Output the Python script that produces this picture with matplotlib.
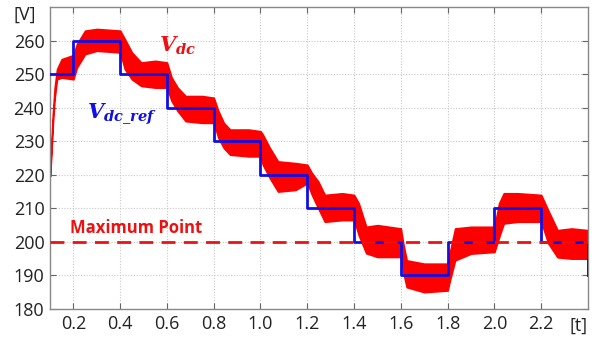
import matplotlib
matplotlib.use("Agg")
import matplotlib.pyplot as plt

# Reference (blue step) values
ref_t = [0.10, 0.20, 0.40, 0.60, 0.80, 1.00, 1.20, 1.40, 1.60, 1.80, 2.00, 2.20, 2.40]
ref_v = [250, 260, 250, 240, 230, 220, 210, 200, 190, 200, 210, 200, 190]

vdc_t     = [0.100, 0.105, 0.112, 0.120, 0.130, 0.150, 0.200, 0.215, 0.250, 0.300, 0.400, 0.420, 0.450, 0.490, 0.550, 0.600,
             0.620, 0.646, 0.680, 0.750, 0.800, 0.820, 0.843, 0.870, 0.950, 1.000, 1.010, 1.040, 1.075, 1.150, 1.200,
             1.220, 1.247, 1.275, 1.350, 1.400, 1.420, 1.452, 1.500, 1.600, 1.610, 1.625, 1.700, 1.800, 1.810, 1.832,
             1.900, 2.000, 2.020, 2.040, 2.100, 2.200, 2.230, 2.270, 2.330, 2.400]
vdc_upper = [221.5, 228.0, 238.0, 246.0, 251.5, 254.5, 255.7, 259.0, 263.0, 263.5, 263.0, 260.5, 256.5, 253.5, 254.0, 253.5,
             249.0, 246.0, 243.5, 243.5, 243.0, 239.0, 235.5, 233.5, 233.5, 233.0, 232.0, 228.0, 224.0, 223.5, 223.0,
             220.5, 218.0, 214.0, 214.5, 214.0, 211.5, 204.5, 205.0, 204.0, 199.6, 194.5, 193.5, 193.5, 197.0, 204.0,
             204.5, 204.5, 211.5, 214.5, 214.5, 214.0, 209.4, 203.5, 204.0, 203.5]
vdc_lower = [219.5, 225.0, 235.0, 243.0, 248.5, 249.0, 248.5, 252.0, 256.0, 257.0, 256.5, 251.5, 248.5, 246.5, 246.0, 246.0,
             242.0, 239.0, 236.0, 235.5, 235.5, 231.0, 228.0, 226.0, 225.5, 225.5, 223.0, 219.0, 215.0, 215.5, 217.5,
             214.0, 210.0, 206.0, 206.5, 206.5, 202.0, 196.6, 195.5, 195.5, 191.0, 186.5, 185.0, 185.5, 188.6, 194.5,
             196.5, 197.0, 201.4, 205.5, 206.0, 206.0, 199.6, 195.4, 195.0, 195.0]

y_ticks = [180, 190, 200, 210, 220, 230, 240, 250, 260]
x_ticks = [0.2, 0.4, 0.6, 0.8, 1.0, 1.2, 1.4, 1.6, 1.8, 2.0, 2.2]
max_point = 200

plt.rcParams['font.family'] = ['Open Sans', 'DejaVu Sans']
plt.rcParams['mathtext.fontset'] = 'custom'
plt.rcParams['mathtext.it'] = 'DejaVu Serif:italic:bold'
plt.rcParams['mathtext.rm'] = 'DejaVu Serif:bold'

fig = plt.figure(figsize=(5.98, 3.41), dpi=100)
ax = fig.add_axes([0.0836, 0.094, 0.8996, 0.885])

ax.fill_between(vdc_t, vdc_lower, vdc_upper, color='#ff0000', linewidth=1.2, edgecolor='#ff0000', zorder=2)
ax.step(ref_t, ref_v, where='post', color='#1010e6', linewidth=2, zorder=3)
ax.plot([ref_t[-2], ref_t[-1]], [ref_v[-2], ref_v[-2]], color='#1010e6', linewidth=2, zorder=3)
ax.plot([ref_t[-1], ref_t[-1]], [ref_v[-2], ref_v[-1]], color='#1010e6', linewidth=2, zorder=3)
ax.axhline(max_point, color='#ee1111', linestyle=(0, (5, 3)), linewidth=2, zorder=4)

ax.set_xlim(0.1, 2.4)
ax.set_ylim(180, 270)
ax.set_xticks(x_ticks)
ax.set_xticklabels([f"{v:.1f}" for v in x_ticks])
ax.set_yticks(y_ticks)
ax.grid(True, color='#c8c8c8', linestyle=(0, (1, 1.5)), linewidth=0.8)
ax.tick_params(direction='in', top=True, right=True, length=4, width=0.8, color='#666666',
               labelsize=13, labelcolor='#222222', pad=4)
for s in ax.spines.values():
    s.set_color('#888888')
    s.set_linewidth(1)

fig.text(0.117, 0.332, 'Maximum Point', color='#ee1111', fontsize=12,
         fontweight='bold', ha='left', va='center')
fig.text(0.022, 0.957, '[V]', fontsize=13, color='#222222', ha='left', va='center')
fig.text(0.967, 0.044, '[t]', fontsize=13, color='#222222', ha='center', va='center')
ax.text(0.645, 258.5, r'$V_{dc}$', color='#ee1111', fontsize=15, ha='center', va='center')
ax.text(0.41, 238.3, r'$V_{dc\_ref}$', color='#1010e6', fontsize=15, ha='center', va='center')

fig.savefig('out.png', dpi=100)
